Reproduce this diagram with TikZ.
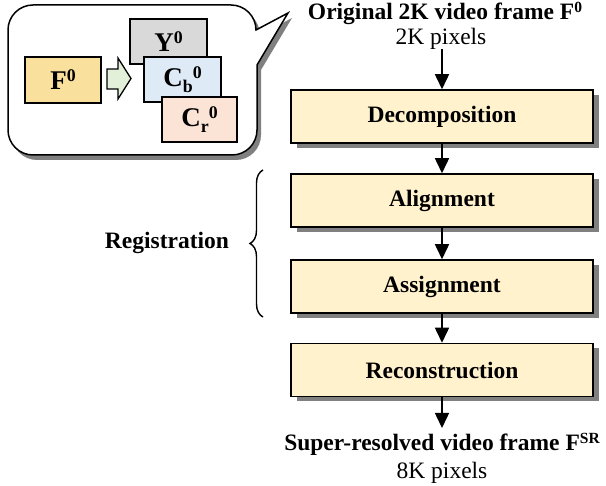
\documentclass[tikz,border=0pt]{standalone}
\usepackage{fontspec}
\setmainfont{Liberation Serif}
\usetikzlibrary{arrows.meta,shadows,decorations.pathreplacing}
\definecolor{boxfill}{HTML}{FFF2CC}
\definecolor{shgray}{HTML}{808080}
\definecolor{ffill}{HTML}{F9E09C}
\definecolor{yfill}{HTML}{D9D9D9}
\definecolor{cbfill}{HTML}{DEEBF7}
\definecolor{crfill}{HTML}{FBE3D6}
\definecolor{arfill}{HTML}{E2F0D9}
\newcommand{\bigfont}{\fontsize{23.5}{28}\selectfont}
\newcommand{\innerfont}{\fontsize{27}{32}\selectfont}
\newcommand{\supx}[1]{\raisebox{0.3em}{\scalebox{0.66}{#1}}}
\newcommand{\subx}[1]{\raisebox{-0.22em}{\scalebox{0.66}{#1}}}
\begin{document}
\begin{tikzpicture}[x=1pt,y=1pt,
  stepbox/.style={draw=black,line width=1.5pt,fill=boxfill,minimum width=302pt,minimum height=53pt,
    inner sep=0pt,font=\bigfont\bfseries,
    drop shadow={shadow xshift=6pt,shadow yshift=-5pt,fill=shgray,opacity=1}},
  smallbox/.style={draw=black,line width=1.3pt,minimum width=#1,minimum height=45pt,inner sep=0pt,font=\innerfont\bfseries},
  flow/.style={line width=1.5pt,-{Triangle[width=14pt,length=15pt]}},
  lbl/.style={inner sep=1pt,font=\bigfont}
]
\useasboundingbox (0,0) rectangle (606,-486);

% callout shadow
\fill[shgray,shift={(4,-5)}] (33,-5) -- (231,-5) arc[start angle=90,end angle=0,radius=25] -- (288,-13) -- (257,-65) -- (257,-130) arc[start angle=0,end angle=-90,radius=25] -- (33,-155) arc[start angle=270,end angle=180,radius=25] -- (8,-30) arc[start angle=180,end angle=90,radius=25] -- cycle;
% callout
\draw[line width=1.5pt,fill=white,line join=miter] (33,-5) -- (231,-5) arc[start angle=90,end angle=0,radius=25] -- (288,-13) -- (257,-65) -- (257,-130) arc[start angle=0,end angle=-90,radius=25] -- (33,-155) arc[start angle=270,end angle=180,radius=25] -- (8,-30) arc[start angle=180,end angle=90,radius=25] -- cycle;

% inner boxes
\node[smallbox=76pt,fill=ffill,minimum height=46pt] (f0) at (63,-80) {F\supx{0}};
\fill[arfill] (107,-69) -- (118,-69) -- (118,-58) -- (131,-78.5) -- (118,-99) -- (118,-89) -- (107,-89) -- cycle;
\draw[line width=1.3pt,line join=miter] (107,-69) -- (118,-69) -- (118,-58) -- (131,-78.5) -- (118,-99) -- (118,-89) -- (107,-89) -- cycle;
\node[smallbox=77pt,fill=yfill] (y0) at (168.5,-41.5) {Y\supx{0}};
\node[smallbox=77pt,fill=cbfill] (cb) at (182.5,-79.5) {C\subx{b}\supx{0}};
\node[smallbox=75pt,fill=crfill] (cr) at (199.5,-119.5) {C\subx{r}\supx{0}};

% main flow
\node[lbl,anchor=base] (orig) at (445,-20) {\bfseries Original 2K video frame F\supx{0}};
\node[lbl,anchor=base] (px2k) at (441,-45) {2K pixels};
\node[stepbox] (dec) at (442,-116.5) {Decomposition};
\node[stepbox] (ali) at (442,-200.5) {Alignment};
\node[stepbox] (ass) at (442,-286.5) {Assignment};
\node[stepbox] (rec) at (442,-370) {Reconstruction};
\coordinate (outtop) at (442,-428);
\node[lbl,anchor=base] (sr) at (442,-451) {\bfseries Super-resolved video frame F\supx{SR}};
\node[lbl,anchor=base] (px8k) at (442,-479) {8K pixels};

\draw[flow] (442,-49) -- (dec.north);
\draw[flow] (dec.south) -- (ali.north);
\draw[flow] (ali.south) -- (ass.north);
\draw[flow] (ass.south) -- (rec.north);
\draw[flow] (rec.south) -- (outtop);

% brace
\draw[line width=1.4pt,decorate,decoration={brace,amplitude=13pt}] (263,-317) -- (263,-170);
\node[lbl,font=\bigfont\bfseries] (reg) at (167,-243) {Registration};
\end{tikzpicture}
\end{document}
